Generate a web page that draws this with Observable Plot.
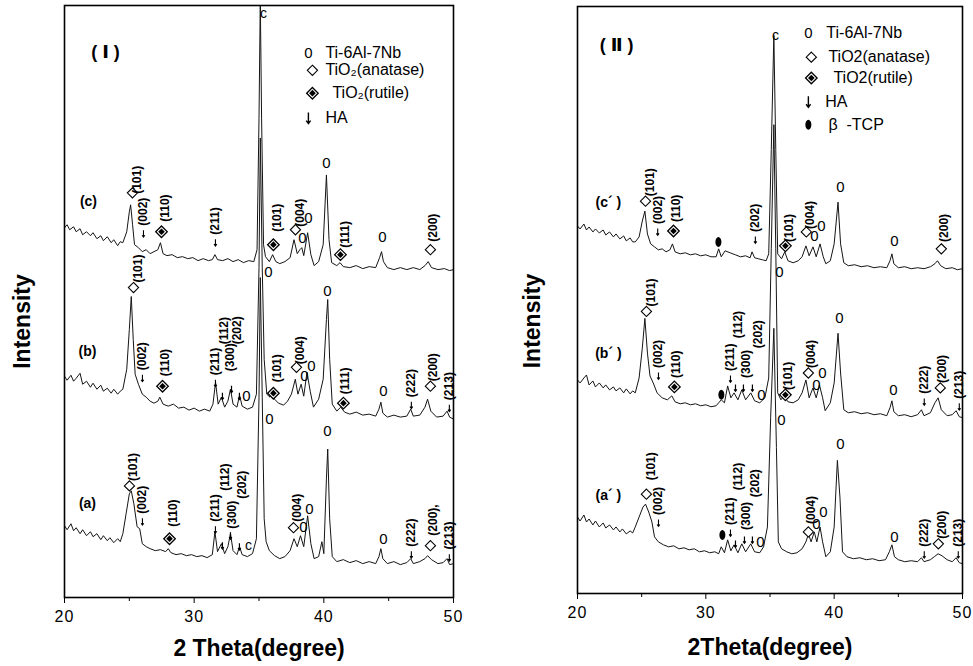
<!DOCTYPE html>
<html><head><meta charset="utf-8">
<script src="https://cdn.jsdelivr.net/npm/d3@7"></script>
<script src="https://cdn.jsdelivr.net/npm/@observablehq/plot@0.6"></script>
<style>
body{margin:0;background:#fff;}
#wrap{position:relative;width:973px;height:666px;overflow:hidden;background:#fff;}
#p1{position:absolute;left:0;top:0;}
#p2{position:absolute;left:486px;top:0;}
g[aria-label="xtitle"] text, g[aria-label="ytitle"] text{letter-spacing:3px;}
g[aria-label="hkl"] text{letter-spacing:0.6px;}
g[aria-label="legend-text"] text{letter-spacing:1px;}
g[aria-label="x-axis tick label"] text{letter-spacing:1px;}
</style></head><body><div id="wrap"><div id="p1"></div><div id="p2"></div></div>
<script>
// ---------- Panel I : 2θ (deg) vs intensity (a.u.) ----------
const curveC1 = [[20,370],[20.2,373],[20.4,368],[20.7,371],[20.9,366],[21.2,369],[21.4,363],[21.7,366],[22,362],[22.2,365],[22.5,359],[22.8,362],[23,357],[23.3,361],[23.6,355],[23.8,358],[24.1,352],[24.3,356],[24.5,355],[24.8,366],[25,386],[25.1,393],[25.25,373],[25.4,353],[25.7,350],[26,346],[26.3,348],[26.6,344],[26.9,346],[27.2,348],[27.4,355],[27.6,344],[27.9,342],[28.3,343],[28.7,340],[29.1,341],[29.5,339],[29.9,340],[30.3,337],[30.7,339],[31.1,337],[31.4,338],[31.6,343],[31.8,338],[32.2,337],[32.6,339],[33,336],[33.4,338],[33.8,335],[34.2,337],[34.6,336],[34.85,348],[35,480],[35.1,600],[35.2,480],[35.35,353],[35.5,341],[35.8,336],[36.05,343],[36.3,336],[36.6,334],[37,336],[37.4,340],[37.7,358],[37.95,344],[38.15,348],[38.3,350],[38.45,342],[38.75,365],[39,343],[39.25,332],[39.6,336],[39.95,353],[40.2,423],[40.4,358],[40.6,335],[41,332],[41.25,335],[41.5,331],[42,330],[42.5,332],[43,329],[43.5,331],[44,330],[44.3,340],[44.45,346],[44.6,336],[44.9,330],[45.4,328],[45.9,330],[46.4,328],[46.9,330],[47.4,328],[47.8,332],[48.05,336],[48.3,330],[48.8,328],[49.3,329],[49.7,327],[50,328]];
const curveB1 = [[20,221],[20.2,217],[20.5,222],[20.7,216],[20.9,219],[21.2,224],[21.4,213],[21.7,216],[22,210],[22.2,214],[22.5,208],[22.8,212],[23,206],[23.3,209],[23.6,204],[23.8,208],[24.1,203],[24.3,206],[24.5,208],[24.8,228],[25,268],[25.15,301],[25.3,258],[25.45,223],[25.7,213],[26,203],[26.3,200],[26.6,196],[26.9,194],[27.2,196],[27.35,200],[27.6,193],[28,191],[28.4,193],[28.8,189],[29.2,190],[29.6,187],[30,189],[30.4,186],[30.8,188],[31.2,186],[31.45,193],[31.65,215],[31.85,193],[32.1,200],[32.35,190],[32.6,196],[32.8,208],[33,193],[33.3,190],[33.5,202],[33.7,191],[34.1,188],[34.5,190],[34.8,203],[35,330],[35.1,460],[35.25,330],[35.4,238],[35.6,203],[35.85,200],[36,206],[36.2,198],[36.5,194],[36.9,192],[37.2,196],[37.5,203],[37.8,218],[38,203],[38.25,213],[38.45,201],[38.7,225],[38.95,206],[39.2,190],[39.6,198],[39.95,218],[40.2,278],[40.3,298],[40.45,238],[40.65,193],[41,186],[41.3,190],[41.6,185],[42,183],[42.5,185],[43,182],[43.5,183],[44,181],[44.25,188],[44.4,195],[44.55,184],[44.9,180],[45.4,182],[45.9,180],[46.4,181],[46.7,188],[46.9,181],[47.4,182],[47.8,190],[48,198],[48.25,186],[48.7,180],[49.2,181],[49.5,186],[49.7,180],[50,178]];
const curveA1 = [[20,71],[20.2,67],[20.5,73],[20.7,66],[20.9,69],[21.2,63],[21.4,67],[21.7,61],[22,65],[22.2,60],[22.5,63],[22.8,57],[23,61],[23.3,56],[23.5,59],[23.8,54],[24.1,58],[24.3,55],[24.5,63],[24.75,83],[25,103],[25.15,106],[25.35,93],[25.6,70],[25.8,68],[26,53],[26.3,50],[26.6,48],[27,46],[27.4,47],[27.8,45],[28,48],[28.2,44],[28.6,42],[29,43],[29.4,41],[29.8,42],[30.2,40],[30.6,41],[31,39],[31.4,42],[31.6,65],[31.8,45],[32.1,53],[32.35,43],[32.6,50],[32.8,63],[33,46],[33.3,42],[33.5,50],[33.7,42],[34.1,40],[34.5,43],[34.8,58],[35,200],[35.1,320],[35.25,200],[35.4,78],[35.55,55],[35.8,46],[36.2,41],[36.6,38],[37,40],[37.4,46],[37.7,58],[37.95,50],[38.2,61],[38.45,50],[38.75,81],[39,53],[39.25,38],[39.6,40],[39.85,55],[40,43],[40.2,118],[40.3,148],[40.45,78],[40.65,40],[41,35],[41.5,37],[42,34],[42.5,36],[43,33],[43.5,35],[44,33],[44.25,40],[44.4,48],[44.55,38],[44.9,33],[45.4,35],[45.9,32],[46.4,34],[46.7,38],[46.9,33],[47.4,35],[47.8,38],[48,41],[48.3,37],[48.8,33],[49.2,34],[49.5,38],[49.7,32],[50,33]];

const anatase1 = [[25.24,405],[37.81,368],[48.22,348],[25.32,310],[37.89,230],[48.22,211],[25.01,111],[37.66,69],[48.22,51]];
const rutile1 = [[27.48,366],[36.11,353],[41.28,343],[27.56,211],[36.11,204],[41.51,194],[28.10,58]];
const ti1 = [[35.73,325],[38.81,380],[38.35,360],[40.20,435],[44.52,361],[40.28,306],[34.03,201],[35.81,178],[38.50,221],[39.04,231],[44.60,206],[40.28,166],[38.43,70],[38.89,88],[44.60,58]];
const cMarks1 = [[35.34,585,"c"],[34.19,51,"c"]];
const haArrows1 = [[32.18,201],[32.88,208],[33.49,201],[32.18,51],[32.80,61],[33.49,50]];
// [2θ, intensity, label, HA arrow under label (1) or not (0)]
const hkl1 = [
  [25.63,404,"(101)",0],[26.09,360,"(002)",1],[27.79,376,"(110)",0],[31.64,351,"(211)",1],[36.42,366,"(101)",0],[38.20,371,"(004)",0],[41.67,350,"(111)",0],[48.45,356,"(200)",0],
  [25.71,315,"(101)",0],[26.01,215,"(002)",1],[27.79,221,"(110)",0],[31.64,210,"(211)",1],[32.34,253,"(112)",0],[32.80,226,"(300)",0],[33.34,253,"(202)",0],[36.42,215,"(101)",0],[38.20,233,"(004)",0],[41.67,203,"(111)",0],[46.75,188,"(222)",1],[48.45,216,"(200)",0],[49.68,185,"(213)",1],
  [25.32,116,"(101)",0],[26.01,71,"(002)",1],[28.40,70,"(110)",0],[31.64,63,"(211)",1],[32.41,106,"(112)",0],[32.95,68,"(300)",0],[33.72,98,"(202)",0],[37.96,75,"(004)",0],[46.75,38,"(222)",1],[48.45,61,"(200),",0],[49.68,35,"(213)",1]
];
const names1 = [[21.85,396,"(c)"],[21.77,246,"(b)"],[21.77,93,"(a)"]];
const title1 = [[23.16,546,"( Ⅰ )"]];
const legTi1 = [[38.81,545]];
const legAnatase1 = [[39.12,528]];
const legRutile1 = [[39.12,505]];
const legArrow1 = [[38.81,480]];
const legText1 = [[40.12,545,"Ti-6Al-7Nb"],[40.12,528,"TiO₂(anatase)"],[40.66,505,"TiO₂(rutile)"],[40.12,480,"HA"]];

// ---------- Panel II ----------
const curveC2 = [[20,368],[20.2,365],[20.5,370],[20.7,364],[20.9,367],[21.2,362],[21.4,365],[21.7,361],[22,364],[22.2,359],[22.5,362],[22.8,357],[23,360],[23.3,355],[23.6,358],[23.8,353],[24.1,356],[24.3,352],[24.5,352],[24.8,357],[25.05,373],[25.25,383],[25.45,360],[25.7,350],[26,347],[26.3,344],[26.6,345],[26.9,342],[27.2,344],[27.4,350],[27.6,342],[28,340],[28.4,341],[28.8,339],[29.2,340],[29.6,338],[30,339],[30.4,337],[30.8,337],[31,345],[31.2,337],[31.5,343],[31.9,341],[32.3,339],[32.7,337],[33.1,338],[33.45,336],[33.6,342],[33.8,336],[34.1,335],[34.4,334],[34.7,333],[34.9,340],[35.1,445],[35.3,560],[35.45,445],[35.6,340],[35.9,335],[36.15,342],[36.4,333],[36.8,331],[37.2,333],[37.5,337],[37.8,348],[38.05,338],[38.35,347],[38.6,337],[38.9,350],[39.15,337],[39.35,330],[39.7,333],[40,350],[40.3,392],[40.5,350],[40.75,331],[41.1,328],[41.6,329],[42.1,327],[42.6,328],[43.1,326],[43.6,327],[44.1,326],[44.35,333],[44.5,340],[44.65,330],[45,326],[45.5,327],[46,325],[46.5,326],[47,325],[47.5,327],[47.85,330],[48.05,333],[48.3,328],[48.7,325],[49.2,326],[49.6,324],[50,325]];
const curveB2 = [[20,213],[20.2,210],[20.5,215],[20.7,218],[20.9,208],[21.2,212],[21.4,206],[21.7,210],[22,205],[22.2,208],[22.5,203],[22.8,206],[23,202],[23.3,205],[23.6,200],[23.8,204],[24.1,199],[24.3,202],[24.5,200],[24.8,215],[25.05,245],[25.25,275],[25.45,240],[25.65,217],[25.9,210],[26.2,200],[26.6,195],[27,193],[27.35,197],[27.6,191],[28,189],[28.4,190],[28.8,188],[29.2,189],[29.6,187],[30,188],[30.4,186],[30.8,187],[31,190],[31.2,193],[31.45,190],[31.7,207],[31.95,195],[32.2,200],[32.5,193],[32.8,203],[33.1,193],[33.5,200],[33.8,192],[34.2,190],[34.6,195],[34.9,215],[35.1,345],[35.3,470],[35.45,345],[35.6,200],[35.85,193],[36.1,197],[36.4,191],[36.8,190],[37.2,193],[37.5,200],[37.8,213],[38.05,195],[38.35,205],[38.6,195],[38.85,208],[39.1,195],[39.3,182],[39.7,190],[40,210],[40.3,260],[40.5,220],[40.75,183],[41.1,180],[41.6,181],[42.1,179],[42.6,180],[43.1,178],[43.6,179],[44.1,177],[44.35,185],[44.5,192],[44.65,181],[45,177],[45.5,178],[46,176],[46.5,178],[46.8,183],[47,177],[47.5,180],[47.85,190],[48.1,195],[48.35,183],[48.8,177],[49.2,178],[49.5,182],[49.75,176],[50,175]];
const curveA2 = [[20,75],[20.2,71],[20.5,77],[20.7,70],[20.9,73],[21.2,67],[21.4,71],[21.7,65],[22,69],[22.2,64],[22.5,67],[22.8,62],[23,65],[23.3,60],[23.5,63],[23.8,58],[24.1,61],[24.3,59],[24.5,65],[24.8,75],[25.1,85],[25.3,88],[25.55,80],[25.8,70],[26,55],[26.3,50],[26.7,47],[27.1,45],[27.5,46],[27.9,43],[28.3,44],[28.7,42],[29.1,43],[29.5,40],[29.9,41],[30.3,39],[30.7,40],[31,38],[31.2,45],[31.45,39],[31.7,52],[31.95,41],[32.2,47],[32.5,39],[32.8,48],[33.1,40],[33.5,48],[33.8,40],[34.2,39],[34.5,45],[34.8,65],[35.05,175],[35.3,265],[35.5,145],[35.65,50],[35.9,43],[36.3,40],[36.7,38],[37.1,39],[37.5,43],[37.8,50],[38,58],[38.2,50],[38.45,60],[38.65,50],[38.9,65],[39.1,50],[39.35,35],[39.7,40],[40,65],[40.25,132],[40.45,95],[40.65,40],[41,35],[41.5,33],[42,34],[42.5,32],[43,33],[43.5,31],[44,32],[44.3,40],[44.5,47],[44.7,35],[45,32],[45.5,30],[46,31],[46.5,30],[46.8,34],[47,30],[47.5,32],[47.8,35],[48.1,38],[48.4,36],[48.8,32],[49.2,30],[49.5,34],[49.75,29],[50,28]];

const anatase2 = [[25.30,393],[37.83,362],[48.35,345],[25.37,282],[37.99,220],[48.27,205],[25.37,98],[37.99,60],[48.12,48]];
const rutile2 = [[27.48,363],[36.20,348],[27.55,206],[36.20,198]];
const tcp2 = [[30.98,352],[31.21,198],[31.29,57]];
const ti2 = [[35.73,322],[39.00,368],[38.46,358],[40.48,407],[44.69,353],[40.40,275],[34.33,198],[35.89,172],[38.61,208],[39.08,220],[44.61,203],[40.48,148],[34.25,50],[38.61,68],[39.16,80],[44.69,55]];
const cMarks2 = [[35.42,560,"c"]];
const haArrows2 = [[32.31,205],[32.93,205],[33.63,205],[32.31,48],[33.01,52],[33.63,52]];
const hkl2 = [
  [25.70,398,"(101)",0],[26.25,358,"(002)",1],[27.71,372,"(110)",0],[33.86,350,"(202)",1],[36.51,352,"(101)",0],[38.15,365,"(004)",0],[48.58,352,"(200)",0],
  [25.76,287,"(101)",0],[26.31,213,"(002)",1],[27.71,215,"(110)",0],[31.92,210,"(211)",1],[32.54,255,"(112)",0],[33.16,215,"(300)",0],[34.10,245,"(202)",0],[36.43,203,"(101)",0],[38.22,225,"(004)",0],[47.02,187,"(222)",1],[48.43,210,"(200)",0],[49.75,182,"(213)",1],
  [25.76,112,"(101)",0],[26.31,65,"(002)",1],[31.92,55,"(211)",1],[32.54,102,"(112)",0],[33.16,62,"(300)",0],[33.86,95,"(202)",0],[38.22,68,"(004)",0],[47.02,33,"(222)",1],[48.43,53,"(200)",0],[49.67,33,"(213)",1]
];
const names2 = [[22.41,392,"(c´ )"],[22.41,240,"(b´ )"],[22.41,97,"(a´ )"]];
const title2 = [[23.05,550,"( Ⅱ )"]];
const legTi2 = [[37.99,562]];
const legAnatase2 = [[38.22,538]];
const legRutile2 = [[38.22,517]];
const legArrow2 = [[37.99,493]];
const legTcp2 = [[37.99,470]];
const legText2 = [[39.39,562,"Ti-6Al-7Nb"],[39.55,538,"TiO2(anatase)"],[39.94,517,"TiO2(rutile)"],[39.31,493,"HA"],[39.55,470,"β  -TCP"]];

const xMajor = [20,30,40,50];
const xMinor = [25,35,45];

// ---------- drawing ----------
const xy = arr => arr.map(([t,i,s,a]) => ({t,i,s,a}));
const ellipseSymbol = {draw(ctx, size){
  const r = Math.sqrt(size/Math.PI), rx = r*0.6, ry = r, k = 0.5523;
  ctx.moveTo(0,-ry);
  ctx.bezierCurveTo(k*rx,-ry, rx,-k*ry, rx,0);
  ctx.bezierCurveTo(rx,k*ry, k*rx,ry, 0,ry);
  ctx.bezierCurveTo(-k*rx,ry, -rx,k*ry, -rx,0);
  ctx.bezierCurveTo(-rx,-k*ry, -k*rx,-ry, 0,-ry);
  ctx.closePath();
}};
const arrowSymbol = {draw(ctx, size){
  const r = Math.sqrt(size/Math.PI), h = Math.min(r*0.4, 2.2);
  ctx.moveTo(0,-r); ctx.lineTo(0,r);
  ctx.moveTo(-h, r-h*1.4); ctx.lineTo(0,r); ctx.lineTo(h, r-h*1.4);
}};
const FONT = '"Liberation Sans", Arial, "DejaVu Sans", "Noto Sans CJK SC", sans-serif';

function panel(p){
  const marks = [];
  for (const c of p.curves) marks.push(Plot.line(xy(c), {x:"t", y:"i", stroke:"#151515", strokeWidth:1, clip:true}));
  const hkl = xy(p.hkl);
  const hklPlain = hkl.filter(d => !d.a), hklArrow = hkl.filter(d => d.a);
  marks.push(
    Plot.frame({stroke:"black", strokeWidth:1.6}),
    Plot.axisX({ticks:xMajor, tickSize:6, tickPadding:7, tickFormat:d=>String(d), label:null, fontSize:16}),
    Plot.axisX({ticks:xMinor, tickSize:4, tickFormat:()=>"", label:null}),
    Plot.text([p.xTitle], {text:d=>d, frameAnchor:"bottom", textAnchor:"middle", lineAnchor:"middle", dy:p.xdy, fontSize:23, fontWeight:"bold", ariaLabel:"xtitle"}),
    Plot.text(["Intensity"], {text:d=>d, frameAnchor:"left", textAnchor:"middle", lineAnchor:"middle", dx:p.ydx, dy:p.ydy, rotate:-90, fontSize:23, fontWeight:"bold", ariaLabel:"ytitle"}),
    Plot.dot(xy(p.anatase.concat(p.legAnatase)), {x:"t", y:"i", symbol:"diamond2", r:4.6, fill:"white", stroke:"black", strokeWidth:1.1}),
    Plot.dot(xy(p.rutile.concat(p.legRutile)), {x:"t", y:"i", symbol:"diamond2", r:5.2, fill:"white", stroke:"black", strokeWidth:1.3}),
    Plot.dot(xy(p.rutile.concat(p.legRutile)), {x:"t", y:"i", symbol:"diamond2", r:3, fill:"black"}),
    Plot.text(xy(p.ti.concat(p.legTi)), {x:"t", y:"i", text:()=>"0", fontSize:15}),
    Plot.text(xy(p.cMarks), {x:"t", y:"i", text:"s", fontSize:14}),
    Plot.dot(xy(p.arrows), {x:"t", y:"i", symbol:arrowSymbol, r:3.4, fill:"none", stroke:"black", strokeWidth:1.2}),
    Plot.dot(xy(p.legArrow), {x:"t", y:"i", symbol:arrowSymbol, r:5.5, fill:"none", stroke:"black", strokeWidth:1.4}),
    Plot.dot(hklArrow, {x:"t", y:"i", dy:-4, symbol:arrowSymbol, r:3.4, fill:"none", stroke:"black", strokeWidth:1.1}),
    Plot.text(hklPlain, {x:"t", y:"i", text:"s", rotate:-90, textAnchor:"start", fontSize:12, fontWeight:"bold", fill:"black", ariaLabel:"hkl"}),
    Plot.text(hklArrow, {x:"t", y:"i", dy:-12, text:"s", rotate:-90, textAnchor:"start", fontSize:12, fontWeight:"bold", fill:"black", ariaLabel:"hkl"}),
    Plot.text(xy(p.names), {x:"t", y:"i", text:"s", fontSize:14, fontWeight:"bold"}),
    Plot.text(xy(p.title), {x:"t", y:"i", text:"s", fontSize:18, fontWeight:"bold"}),
    Plot.text(xy(p.legText), {x:"t", y:"i", text:"s", textAnchor:"start", fontSize:16, ariaLabel:"legend-text"})
  );
  if (p.tcp) marks.push(Plot.dot(xy(p.tcp.concat(p.legTcp)), {x:"t", y:"i", symbol:ellipseSymbol, r:5, fill:"black"}));
  return Plot.plot({
    width:p.width, height:666,
    marginLeft:p.ml, marginRight:p.mr, marginTop:p.mt, marginBottom:p.mb,
    x:{domain:[20,50]},
    y:{domain:p.yDomain, axis:null},
    style:{fontFamily:FONT, fontSize:"16px", background:"white", color:"black", overflow:"visible"},
    marks
  });
}

document.getElementById("p1").appendChild(panel({
  width:486, ml:64, mr:33, mt:5, mb:69, yDomain:[-1,593],
  xTitle:"2 Theta(degree)", xdy:51, ydx:-42, ydy:20,
  curves:[curveC1, curveB1, curveA1],
  anatase:anatase1, rutile:rutile1, ti:ti1, cMarks:cMarks1, arrows:haArrows1, hkl:hkl1,
  names:names1, title:title1, legTi:legTi1, legAnatase:legAnatase1, legRutile:legRutile1, legArrow:legArrow1, legText:legText1
}));
document.getElementById("p2").appendChild(panel({
  width:487, ml:91, mr:11, mt:6, mb:73, yDomain:[-2,589],
  xTitle:"2Theta(degree)", xdy:54, ydx:-45, ydy:21,
  curves:[curveC2, curveB2, curveA2],
  anatase:anatase2, rutile:rutile2, ti:ti2, cMarks:cMarks2, arrows:haArrows2, hkl:hkl2, tcp:tcp2, legTcp:legTcp2,
  names:names2, title:title2, legTi:legTi2, legAnatase:legAnatase2, legRutile:legRutile2, legArrow:legArrow2, legText:legText2
}));
</script></body></html>
